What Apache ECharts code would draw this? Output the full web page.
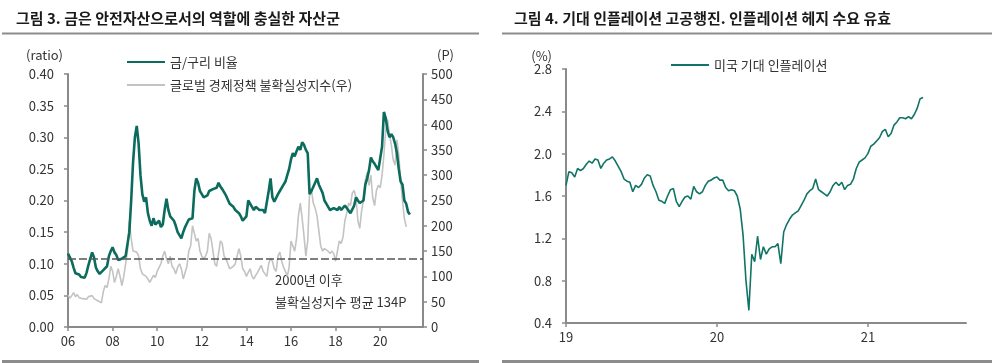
<!DOCTYPE html>
<html>
<head>
<meta charset="utf-8">
<script src="https://cdn.jsdelivr.net/npm/echarts@6/dist/echarts.min.js"></script>
<style>
html,body{margin:0;padding:0;background:#fff;}
#c{width:1000px;height:363px;}
</style>
</head>
<body>
<div id="c"></div>
<script>
// ---------- DATA ----------
// Left chart: monthly from Jan 2006
const leftStartYear = 2006;
const leftTickYears = [2006, 2008, 2010, 2012, 2014, 2016, 2018, 2020];
const goldCopperRatio = [
  0.116,0.110,0.104,0.094,0.085,0.082,0.083,0.079,0.081,0.078,0.086,0.098,
  0.108,0.118,0.110,0.094,0.088,0.084,0.086,0.090,0.088,0.096,0.112,0.120,
  0.126,0.118,0.114,0.106,0.104,0.108,0.110,0.112,0.110,0.150,0.200,0.260,
  0.300,0.318,0.290,0.240,0.210,0.198,0.205,0.180,0.168,0.160,0.172,0.162,
  0.165,0.168,0.158,0.162,0.185,0.203,0.185,0.175,0.172,0.168,0.160,0.150,
  0.148,0.140,0.150,0.158,0.164,0.170,0.168,0.172,0.215,0.235,0.228,0.215,
  0.210,0.205,0.202,0.208,0.215,0.212,0.218,0.215,0.220,0.228,0.222,0.218,
  0.215,0.208,0.205,0.195,0.195,0.190,0.185,0.188,0.180,0.175,0.168,0.165,
  0.175,0.200,0.198,0.190,0.185,0.190,0.188,0.185,0.182,0.185,0.180,0.182,
  0.215,0.235,0.205,0.198,0.200,0.210,0.215,0.212,0.225,0.230,0.240,0.250,
  0.265,0.275,0.270,0.278,0.285,0.280,0.292,0.288,0.280,0.275,0.210,0.215,
  0.212,0.228,0.235,0.225,0.222,0.212,0.200,0.195,0.190,0.185,0.182,0.188,
  0.186,0.185,0.190,0.185,0.188,0.192,0.188,0.185,0.180,0.186,0.192,0.205,
  0.200,0.196,0.198,0.200,0.225,0.235,0.248,0.268,0.262,0.258,0.255,0.248,
  0.250,0.285,0.340,0.330,0.310,0.300,0.305,0.300,0.290,0.275,0.250,0.230,
  0.225,0.200,0.195,0.182,0.178
];
const uncertaintyIndex = [
  63,57,62,68,60,64,58,60,56,57,55,60,
  57,62,56,58,52,55,48,70,82,78,95,120,
  110,88,100,115,100,82,100,125,150,210,175,150,
  150,148,140,115,105,108,100,95,88,95,102,98,
  110,118,125,140,150,135,125,140,120,115,105,118,
  125,115,95,92,120,150,160,200,185,170,175,150,
  140,135,140,150,185,175,150,125,120,145,170,165,
  140,135,125,115,112,120,125,140,155,140,115,110,
  100,108,115,100,95,102,108,115,122,110,105,100,
  125,136,130,115,110,140,148,130,118,110,100,118,
  170,160,150,175,220,245,215,180,140,170,265,270,
  245,235,220,190,160,150,155,152,150,145,150,145,
  130,150,170,165,178,210,225,245,240,265,270,255,
  210,195,230,250,290,305,280,300,255,240,270,280,
  275,300,340,390,410,380,360,330,320,370,340,290,
  250,215,198
];
const uncertaintyAverage = 134;

// Right chart: weekly from Jan 2019
const rightStartYear = 2019;
const rightTickYears = [2019, 2020, 2021];
const expectedInflation = [
  1.70,1.83,1.82,1.78,1.86,1.84,1.86,1.90,1.93,1.91,1.95,1.94,1.86,1.91,1.94,1.95,
  1.97,1.93,1.88,1.83,1.76,1.74,1.73,1.64,1.70,1.68,1.71,1.77,1.80,1.79,1.70,1.64,
  1.56,1.55,1.53,1.60,1.66,1.67,1.55,1.50,1.55,1.59,1.60,1.57,1.69,1.64,1.62,1.64,
  1.70,1.74,1.75,1.77,1.78,1.75,1.75,1.68,1.65,1.66,1.65,1.60,1.48,1.23,0.80,0.52,
  1.05,0.98,1.22,1.00,1.12,1.05,1.10,1.12,1.12,1.15,0.96,1.26,1.33,1.38,1.42,1.44,
  1.46,1.51,1.56,1.62,1.65,1.67,1.76,1.66,1.64,1.62,1.60,1.64,1.70,1.73,1.70,1.73,
  1.66,1.70,1.71,1.76,1.86,1.92,1.94,1.96,2.00,2.07,2.09,2.12,2.15,2.21,2.23,2.16,
  2.19,2.27,2.30,2.34,2.34,2.33,2.35,2.33,2.37,2.43,2.52,2.53
];

// ---------- CHART ----------
const FONT = "'Noto Sans CJK KR', 'Noto Sans', sans-serif";
const TXT = '#333333';
const AX = '#8a8a8a';
const GREEN = '#0b6b5d';
const GREEN2 = '#127466';
const GRAY = '#c3c3c3';

const ratioData = goldCopperRatio.map((v, i) => [leftStartYear + i / 12, v]);
const epuData = uncertaintyIndex.map((v, i) => [leftStartYear + i / 12, v]);
const beiData = expectedInflation.map((v, i) => [rightStartYear + i / 52, v]);

const chart = echarts.init(document.getElementById('c'), null, {renderer: 'canvas'});

function yearLabel(v) { return String(Math.round(v) % 100).padStart(2, '0'); }

const axisLineStyle = {show: true, lineStyle: {color: AX, width: 2}};
const tickStyle = {show: true, length: 4, lineStyle: {color: AX, width: 1.5}};
const labelStyle = {color: TXT, fontSize: 13, fontFamily: FONT};

const option = {
  animation: false,
  textStyle: {fontFamily: FONT},
  title: [
    {text: '그림 3. 금은 안전자산으로서의 역할에 충실한 자산군', left: 11, top: 6,
     textStyle: {fontSize: 15, fontWeight: 'bold', color: '#1a1a1a', fontFamily: FONT}},
    {text: '그림 4. 기대 인플레이션 고공행진. 인플레이션 헤지 수요 유효', left: 509, top: 6,
     textStyle: {fontSize: 15, fontWeight: 'bold', color: '#1a1a1a', fontFamily: FONT}}
  ],
  legend: [
    {orient: 'vertical', left: 122, top: 49, itemWidth: 38, itemHeight: 2, itemGap: 7, icon: 'rect',
     data: ['금/구리 비율', '글로벌 경제정책 불확실성지수(우)'],
     textStyle: {color: TXT, fontSize: 13, lineHeight: 16, fontFamily: FONT}},
    {orient: 'vertical', left: 666, top: 52, itemWidth: 38, itemHeight: 2, icon: 'rect',
     data: ['미국 기대 인플레이션'],
     textStyle: {color: TXT, fontSize: 13, lineHeight: 16, fontFamily: FONT}}
  ],
  grid: [
    {left: 68, top: 74, width: 355, height: 253},
    {left: 566, top: 69, width: 400, height: 254}
  ],
  xAxis: [
    {type: 'value', gridIndex: 0, min: 2006, max: 2021.92, interval: 2,
     axisLine: axisLineStyle,
     axisTick: Object.assign({}, tickStyle, {customValues: leftTickYears}),
     axisLabel: Object.assign({}, labelStyle, {margin: 8, customValues: leftTickYears, formatter: yearLabel}),
     splitLine: {show: false}},
    {type: 'value', gridIndex: 1, min: 2019, max: 2021.65, interval: 1,
     axisLine: axisLineStyle,
     axisTick: Object.assign({}, tickStyle, {customValues: rightTickYears}),
     axisLabel: Object.assign({}, labelStyle, {margin: 8, customValues: rightTickYears, formatter: yearLabel}),
     splitLine: {show: false}}
  ],
  yAxis: [
    {type: 'value', gridIndex: 0, min: 0, max: 0.4, interval: 0.05, position: 'left',
     name: '(ratio)', nameLocation: 'end', nameGap: 12,
     nameTextStyle: {color: TXT, fontSize: 13, fontFamily: FONT, align: 'right', padding: [0, 5, 0, 0]},
     axisLine: axisLineStyle, axisTick: tickStyle,
     axisLabel: Object.assign({}, labelStyle, {margin: 14, formatter: v => v.toFixed(2)}),
     splitLine: {show: false}},
    {type: 'value', gridIndex: 0, min: 0, max: 500, interval: 50, position: 'right',
     name: '(P)', nameLocation: 'end', nameGap: 12,
     nameTextStyle: {color: TXT, fontSize: 13, fontFamily: FONT, align: 'left', padding: [0, 0, 0, 14]},
     axisLine: axisLineStyle, axisTick: tickStyle,
     axisLabel: Object.assign({}, labelStyle, {margin: 8}),
     splitLine: {show: false}},
    {type: 'value', gridIndex: 1, min: 0.4, max: 2.8, interval: 0.4, position: 'left',
     name: '(%)', nameLocation: 'end', nameGap: 6,
     nameTextStyle: {color: TXT, fontSize: 13, fontFamily: FONT, align: 'right', padding: [0, 14, 0, 0]},
     axisLine: axisLineStyle, axisTick: tickStyle,
     axisLabel: Object.assign({}, labelStyle, {margin: 14, formatter: v => v.toFixed(1)}),
     splitLine: {show: false}}
  ],
  series: [
    {name: '글로벌 경제정책 불확실성지수(우)', type: 'line', xAxisIndex: 0, yAxisIndex: 1,
     data: epuData, showSymbol: false, symbol: 'none',
     lineStyle: {color: GRAY, width: 1.6}, itemStyle: {color: GRAY},
     markLine: {silent: true, symbol: 'none', label: {show: false},
       lineStyle: {color: '#555', width: 1.5, type: [8, 3]},
       data: [{yAxis: uncertaintyAverage}]}},
    {name: '금/구리 비율', type: 'line', xAxisIndex: 0, yAxisIndex: 0,
     data: ratioData, showSymbol: false, symbol: 'none',
     lineStyle: {color: GREEN, width: 2.6}, itemStyle: {color: GREEN}},
    {name: '미국 기대 인플레이션', type: 'line', xAxisIndex: 1, yAxisIndex: 2,
     data: beiData, showSymbol: false, symbol: 'none',
     lineStyle: {color: GREEN2, width: 1.6}, itemStyle: {color: GREEN2}}
  ],
  graphic: [
    {type: 'rect', shape: {x: 2, y: 32.5, width: 477, height: 2}, style: {fill: '#8c8c8c'}, silent: true},
    {type: 'rect', shape: {x: 502, y: 32.5, width: 490, height: 2}, style: {fill: '#8c8c8c'}, silent: true},
    {type: 'rect', shape: {x: 2, y: 360, width: 477, height: 3}, style: {fill: '#8c8c8c'}, silent: true},
    {type: 'rect', shape: {x: 502, y: 360, width: 490, height: 3}, style: {fill: '#8c8c8c'}, silent: true},
    {type: 'text', left: 275, top: 274, silent: true,
     style: {text: '2000년 이후', fill: TXT, fontSize: 13, fontFamily: FONT}},
    {type: 'text', left: 275, top: 296, silent: true,
     style: {text: '불확실성지수 평균 134P', fill: TXT, fontSize: 13, fontFamily: FONT}}
  ]
};
chart.setOption(option);
</script>
</body>
</html>
